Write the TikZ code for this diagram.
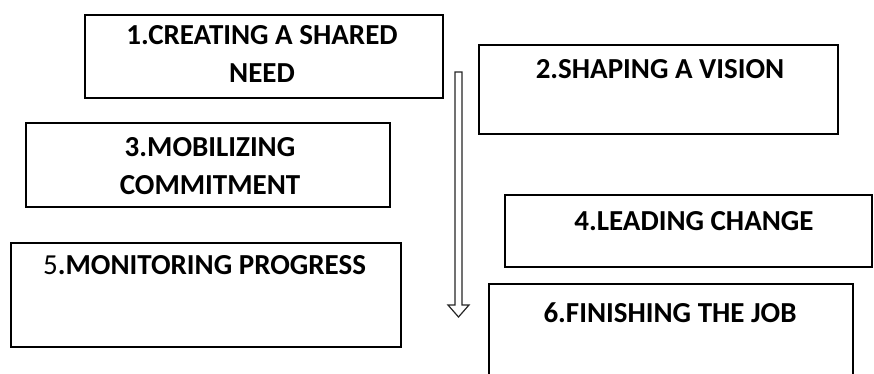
\documentclass[tikz,border=0pt]{standalone}
\usepackage{fontspec}
\setmainfont{Carlito}
\begin{document}
\begin{tikzpicture}[x=1pt,y=-1pt,
  stagebox/.style={draw=black, line width=2pt, fill=white, inner sep=0pt, outer sep=0pt},
  stagetext/.style={font=\fontsize{29}{38}\selectfont\bfseries, inner sep=0pt, align=center},
  flowarrow/.style={draw=black!85, line width=1.2pt, fill=white, line join=miter}]
\useasboundingbox (0,0) rectangle (874,374);
\clip (0,0) rectangle (874,374);

% stage frames
\node[stagebox, minimum width=358pt, minimum height=83pt]  (s1) at (264,56.5) {};
\node[stagebox, minimum width=359pt, minimum height=89pt]  (s2) at (658.5,89.5) {};
\node[stagebox, minimum width=364pt, minimum height=84pt]  (s3) at (208,165) {};
\node[stagebox, minimum width=367pt, minimum height=72pt]  (s4) at (688.5,231) {};
\node[stagebox, minimum width=390pt, minimum height=104pt] (s5) at (206,295) {};
\node[stagebox, minimum width=364pt, minimum height=106pt] (s6) at (671,337) {};

% stage titles
\node[stagetext, anchor=north] (t1) at (262,25)  {1.CREATING A SHARED\\NEED};
\node[stagetext, anchor=north] (t2) at (660,59)  {2.SHAPING A VISION};
\node[stagetext, anchor=north] (t3) at (210,137) {3.MOBILIZING\\COMMITMENT};
\node[stagetext, anchor=north] (t4) at (694,211) {4.LEADING CHANGE};
\node[stagetext, anchor=north west] (t5) at (43,255) {{\mdseries 5}.MONITORING PROGRESS};
\node[stagetext, anchor=north] (t6) at (670,303) {6.FINISHING THE JOB};

% downward block arrow
\draw[flowarrow] (455,72) -- (462,72) -- (462,305) -- (469,305) -- (458.5,317)
  -- (448,305) -- (455,305) -- cycle;
\end{tikzpicture}
\end{document}
